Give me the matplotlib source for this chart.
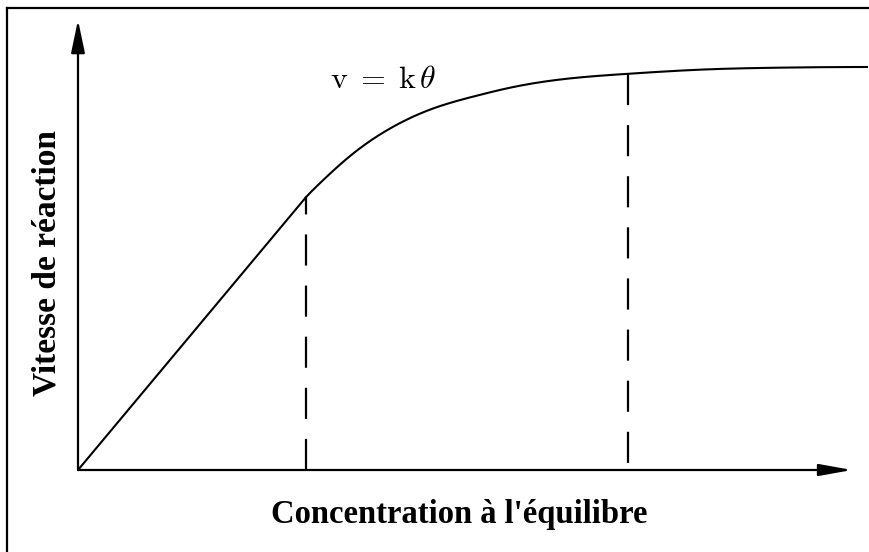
import matplotlib
matplotlib.use("Agg")
import matplotlib.pyplot as plt
from matplotlib.lines import Line2D
import numpy as np

# Data (arbitrary units)
conc_linear = [0.0, 2.897]
rate_linear = [0.0, 0.677]
conc_curve = [2.897, 3.113, 3.456, 3.926, 4.511, 5.070, 5.451, 6.086, 6.976,
              7.980, 8.793, 10.025]
rate_curve = [0.677, 0.719, 0.779, 0.843, 0.897, 0.929, 0.947, 0.968, 0.983,
              0.994, 0.998, 1.0]
dashed_x = [2.897, 6.99]
dashed_top = [0.677, 0.983]
x_label = "Concentration à l'équilibre"
y_label = "Vitesse de réaction"
annotation = r"$\mathrm{v}\;=\;\mathrm{k}\,\theta$"

plt.rcParams["mathtext.fontset"] = "cm"

W, H = 870, 552
fig = plt.figure(figsize=(W / 100, H / 100), dpi=100)
fig.patch.set_facecolor("white")

# frame around figure (top and left visible, others cropped)
fig.add_artist(Line2D([7 / W, 7 / W], [0, 1 - 8 / H], transform=fig.transFigure,
                      color="black", lw=1.6))
fig.add_artist(Line2D([7 / W, 1], [1 - 8 / H, 1 - 8 / H], transform=fig.transFigure,
                      color="black", lw=1.6))

ox, oy = 78, 470
ax = fig.add_axes([ox / W, (H - oy) / H, (W - ox) / W, (oy - 8) / H])
xmax = (W - ox) / 78.7
ymax = (oy - 8) / 403.0
ax.set_xlim(0, xmax)
ax.set_ylim(0, ymax)
ax.axis("off")

# axes arrows
yarrow_top = (oy - 20) / 403.0
xarrow_end = (852 - ox) / 78.7
ax.annotate("", xy=(0, yarrow_top), xytext=(0, 0),
            arrowprops=dict(arrowstyle="-|>,head_length=2.0,head_width=0.42",
                            lw=1.6, color="black", shrinkA=0, shrinkB=0))
ax.annotate("", xy=(xarrow_end, 0), xytext=(0, 0),
            arrowprops=dict(arrowstyle="-|>,head_length=2.0,head_width=0.36",
                            lw=1.6, color="black", shrinkA=0, shrinkB=0))

# linear part
ax.plot(conc_linear, rate_linear, color="black", lw=1.5, clip_on=False,
        solid_capstyle="round")


# smooth drawing through the read points: clamped cubic spline
def clamped_spline(x, y, xn, d0, d1):
    x = np.asarray(x, float); y = np.asarray(y, float)
    n = len(x); h = np.diff(x)
    A = np.zeros((n, n)); b = np.zeros(n)
    A[0, 0] = 2 * h[0]; A[0, 1] = h[0]
    b[0] = 6 * ((y[1] - y[0]) / h[0] - d0)
    A[-1, -2] = h[-1]; A[-1, -1] = 2 * h[-1]
    b[-1] = 6 * (d1 - (y[-1] - y[-2]) / h[-1])
    for i in range(1, n - 1):
        A[i, i - 1] = h[i - 1]; A[i, i] = 2 * (h[i - 1] + h[i]); A[i, i + 1] = h[i]
        b[i] = 6 * ((y[i + 1] - y[i]) / h[i] - (y[i] - y[i - 1]) / h[i - 1])
    M = np.linalg.solve(A, b)
    out = np.empty_like(xn)
    for j, xv in enumerate(xn):
        i = int(np.clip(np.searchsorted(x, xv) - 1, 0, n - 2))
        t1 = x[i + 1] - xv; t0 = xv - x[i]
        out[j] = (M[i] * t1**3 + M[i + 1] * t0**3) / (6 * h[i]) \
            + (y[i] / h[i] - M[i] * h[i] / 6) * t1 \
            + (y[i + 1] / h[i] - M[i + 1] * h[i] / 6) * t0
    return out


slope0 = (rate_linear[1] - rate_linear[0]) / (conc_linear[1] - conc_linear[0])
xc = np.linspace(conc_curve[0], conc_curve[-1], 500)
yc = clamped_spline(conc_curve, rate_curve, xc, slope0 * 0.9, 0.0)
ax.plot(xc, yc, color="black", lw=1.5, clip_on=False)

# dashed verticals (first drawn upward, second drawn from the curve downward)
ax.plot([dashed_x[0], dashed_x[0]], [0, dashed_top[0]], color="black", lw=1.6,
        linestyle=(0, (14, 9)))
ax.plot([dashed_x[1], dashed_x[1]], [dashed_top[1], 0], color="black", lw=1.6,
        linestyle=(0, (14, 9)))

ax.text((330 - ox) / 78.7, (oy - 88) / 403.0, annotation, fontsize=23,
        ha="left", va="baseline")

fig.text(459 / W, 1 - 523 / H, x_label, fontsize=23.5, fontweight="bold",
         family="Liberation Serif", ha="center", va="baseline")
fig.text(47 / W, 1 - 263 / H, y_label, fontsize=24, fontweight="bold",
         family="Liberation Serif", ha="center", va="center", rotation=90)

fig.savefig("out.png", dpi=100)
